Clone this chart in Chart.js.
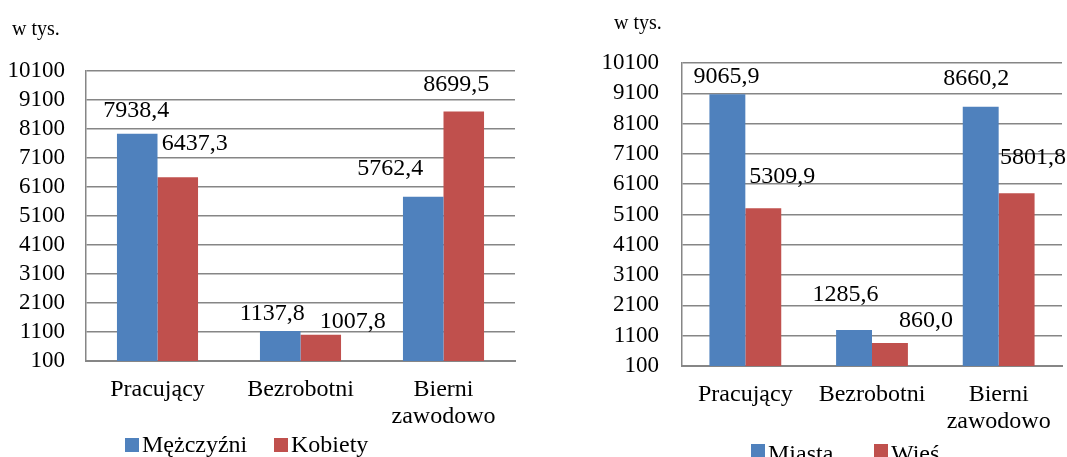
<!DOCTYPE html>
<html>
<head>
<meta charset="utf-8">
<script src="https://cdn.jsdelivr.net/npm/chart.js@4.4.1/dist/chart.umd.min.js"></script>
<style>
  html, body { margin: 0; padding: 0; background: #ffffff; }
  body { width: 1067px; height: 457px; position: relative; overflow: hidden; font-family: "Liberation Serif", "DejaVu Serif", serif; }
  .wrap { position: absolute; top: 0; }
  .unit { position: absolute; font-family: "Liberation Serif", serif; font-size: 20px; color: #000; white-space: nowrap; line-height: 1; }
</style>
</head>
<body>
<div class="wrap" style="left:0;width:540px;height:457px"><canvas id="c1" width="540" height="457"></canvas></div>
<div class="wrap" style="left:540px;width:527px;height:457px"><canvas id="c2" width="527" height="457"></canvas></div>
<div class="unit" id="u1" style="left:12px;top:18px">w tys.</div>
<div class="unit" id="u2" style="left:614px;top:12px">w tys.</div>
<script>
// ---- data ----
const categories = ['Pracujący', 'Bezrobotni', ['Bierni', 'zawodowo']];
const menLabel = 'Mężczyźni';
const womenLabel = 'Kobiety';
const menValues = [7938.4, 1137.8, 5762.4];
const womenValues = [6437.3, 1007.8, 8699.5];
const cityLabel = 'Miasta';
const villageLabel = 'Wieś';
const cityValues = [9065.9, 1285.6, 8660.2];
const villageValues = [5309.9, 860.0, 5801.8];
const yTickValues = [100, 1100, 2100, 3100, 4100, 5100, 6100, 7100, 8100, 9100, 10100];
const unitLabel = 'w tys.';

// ---- style ----
const BLUE = '#4F81BD';
const RED = '#C0504D';
const GRID = '#868686';
const FONT = '"Liberation Serif", "Times New Roman", serif';

function fmt(v) { return v.toFixed(1).replace('.', ','); }

const valueLabelPlugin = {
  id: 'valueLabels',
  afterDatasetsDraw(chart) {
    const cfg = chart.options.plugins.valueLabels;
    const ctx = chart.ctx;
    ctx.save();
    ctx.font = cfg.size + 'px ' + FONT;
    ctx.fillStyle = '#000';
    ctx.textAlign = 'center';
    ctx.textBaseline = 'middle';
    chart.data.datasets.forEach((ds, di) => {
      const meta = chart.getDatasetMeta(di);
      meta.data.forEach((el, i) => {
        const off = cfg.offsets[di][i];
        ctx.fillText(fmt(ds.data[i]), el.x + off[0], el.y - off[1]);
      });
    });
    ctx.restore();
  }
};

const customLegendPlugin = {
  id: 'customLegend',
  afterDraw(chart) {
    const cfg = chart.options.plugins.customLegend;
    const ctx = chart.ctx;
    ctx.save();
    ctx.font = cfg.size + 'px ' + FONT;
    ctx.textAlign = 'left';
    ctx.textBaseline = 'alphabetic';
    chart.data.datasets.forEach((ds, di) => {
      const x = cfg.xs[di];
      ctx.fillStyle = ds.backgroundColor;
      ctx.fillRect(x, cfg.boxTop, cfg.box, cfg.box);
      ctx.fillStyle = '#000';
      ctx.fillText(ds.label, x + cfg.box + 3, cfg.baseline);
    });
    ctx.restore();
  }
};

function makeChart(id, labels, sets, layout) {
  return new Chart(document.getElementById(id), {
    type: 'bar',
    data: {
      labels: labels,
      datasets: sets.map(s => ({
        label: s.label, data: s.data, backgroundColor: s.color, borderWidth: 0,
        barPercentage: 1.0, categoryPercentage: 0.567
      }))
    },
    options: {
      responsive: false,
      animation: false,
      devicePixelRatio: 1,
      layout: { padding: { top: layout.top, right: layout.right, left: 0, bottom: 0 } },
      plugins: {
        legend: { display: false },
        tooltip: { enabled: false },
        valueLabels: { size: 24, offsets: layout.offsets },
        customLegend: layout.legend
      },
      scales: {
        x: {
          grid: { display: false, drawTicks: false },
          border: { display: true, color: GRID, width: 2 },
          ticks: { font: { family: FONT, size: 24, lineHeight: 1.125 }, color: '#000', padding: layout.xPad, maxRotation: 0, autoSkip: false },
          afterFit(scale) { scale.height = layout.xHeight; }
        },
        y: {
          min: yTickValues[0],
          max: yTickValues[yTickValues.length - 1],
          afterBuildTicks(scale) { scale.ticks = yTickValues.map(v => ({ value: v })); },
          grid: { color: GRID, lineWidth: 1.5, drawTicks: false },
          border: { display: true, color: GRID, width: 1.5 },
          ticks: { font: { family: FONT, size: 23 }, color: '#000', padding: layout.yPad, autoSkip: false, callback: v => String(v) },
          afterFit(scale) { scale.width = layout.yWidth; }
        }
      }
    },
    plugins: [valueLabelPlugin, customLegendPlugin]
  });
}

makeChart('c1', categories, [
  { label: menLabel, data: menValues, color: BLUE },
  { label: womenLabel, data: womenValues, color: RED }
], {
  top: 71, right: 25, yWidth: 86, xHeight: 96, yPad: 21, xPad: 15,
  offsets: [[[-1, 23], [-8, 17], [-33, 28]], [[17, 34], [32, 13], [-7.5, 27]]],
  legend: { size: 24, box: 14, boxTop: 438, baseline: 452, xs: [125, 274] }
});

makeChart('c2', categories, [
  { label: cityLabel, data: cityValues, color: BLUE },
  { label: villageLabel, data: villageValues, color: RED }
], {
  top: 63, right: 5, yWidth: 142, xHeight: 91, yPad: 23, xPad: 15.5,
  offsets: [[[-1, 18], [-8.5, 35], [-4.5, 28]], [[19, 31], [36, 22], [16.5, 36]]],
  legend: { size: 24, box: 14, boxTop: 444, baseline: 461, xs: [211, 334] }
});

document.getElementById('u1').textContent = unitLabel;
document.getElementById('u2').textContent = unitLabel;
</script>
</body>
</html>
